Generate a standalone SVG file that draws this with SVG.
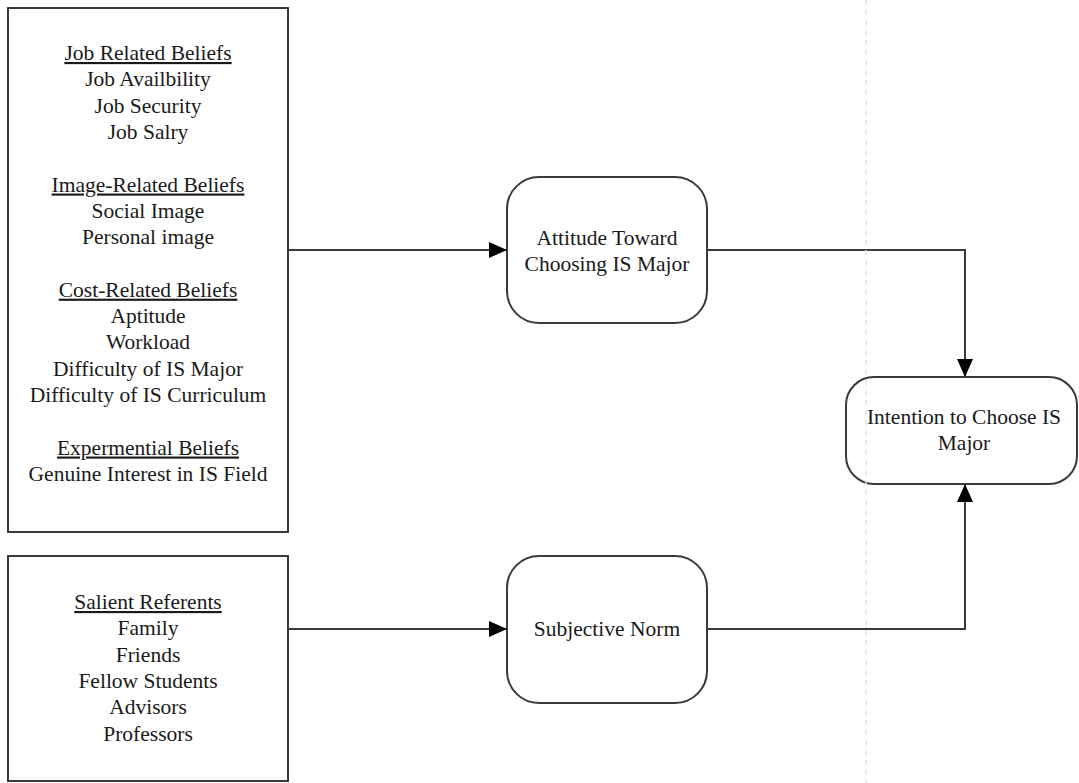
<svg xmlns="http://www.w3.org/2000/svg" width="1079" height="783" viewBox="0 0 1079 783">
  <style>
    .box{fill:#fff;stroke:#3a3a3a;stroke-width:2}
    .t{font-family:"Liberation Serif","Times New Roman",serif;font-size:21.5px;fill:#1a1a1a;text-anchor:middle}
    .u{text-decoration:underline}
    .c{fill:none;stroke:#3a3a3a;stroke-width:2}
  </style>
  <defs>
    <marker id="arr" markerUnits="userSpaceOnUse" markerWidth="20" markerHeight="18" refX="18" refY="8" orient="auto">
      <path d="M0,0 L18,8 L0,16 Z" fill="#000"/>
    </marker>
  </defs>
  <rect width="1079" height="783" fill="#fff"/>

  <g id="beliefs">
    <rect class="box" x="8" y="8" width="280" height="524"/>
    <text class="t u" x="148" y="60">Job Related Beliefs</text>
    <text class="t" x="148" y="86.3">Job Availbility</text>
    <text class="t" x="148" y="112.6">Job Security</text>
    <text class="t" x="148" y="138.9">Job Salry</text>
    <text class="t u" x="148" y="191.5">Image-Related Beliefs</text>
    <text class="t" x="148" y="217.8">Social Image</text>
    <text class="t" x="148" y="244.1">Personal image</text>
    <text class="t u" x="148" y="296.7">Cost-Related Beliefs</text>
    <text class="t" x="148" y="323">Aptitude</text>
    <text class="t" x="148" y="349.3">Workload</text>
    <text class="t" x="148" y="375.6">Difficulty of IS Major</text>
    <text class="t" x="148" y="401.9">Difficulty of IS Curriculum</text>
    <text class="t u" x="148" y="454.5">Expermential Beliefs</text>
    <text class="t" x="148" y="480.8">Genuine Interest in IS Field</text>
  </g>

  <g id="referents">
    <rect class="box" x="8" y="556" width="280" height="225"/>
    <text class="t u" x="148" y="609">Salient Referents</text>
    <text class="t" x="148" y="635.3">Family</text>
    <text class="t" x="148" y="661.6">Friends</text>
    <text class="t" x="148" y="687.9">Fellow Students</text>
    <text class="t" x="148" y="714.2">Advisors</text>
    <text class="t" x="148" y="740.5">Professors</text>
  </g>

  <g id="attitude">
    <rect class="box" x="507" y="177" width="200" height="146" rx="32" ry="32"/>
    <text class="t" x="607" y="245">Attitude Toward</text>
    <text class="t" x="607" y="271">Choosing IS Major</text>
  </g>

  <g id="norm">
    <rect class="box" x="507" y="556" width="200" height="147" rx="32" ry="32"/>
    <text class="t" x="607" y="636">Subjective Norm</text>
  </g>

  <g id="intention">
    <rect class="box" x="846" y="377" width="231" height="107" rx="28" ry="28"/>
    <text class="t" x="964" y="424">Intention to Choose IS</text>
    <text class="t" x="964" y="450">Major</text>
  </g>

  <g id="connectors">
    <path class="c" d="M288,250 H507" marker-end="url(#arr)"/>
    <path class="c" d="M288,629 H507" marker-end="url(#arr)"/>
    <path class="c" d="M707,250 H965 V377" marker-end="url(#arr)"/>
    <path class="c" d="M707,629 H965 V484" marker-end="url(#arr)"/>
  </g>

  <line x1="866" y1="0" x2="866" y2="783" stroke="#e2e2e2" stroke-width="1.5" stroke-dasharray="5 5"/>
</svg>
